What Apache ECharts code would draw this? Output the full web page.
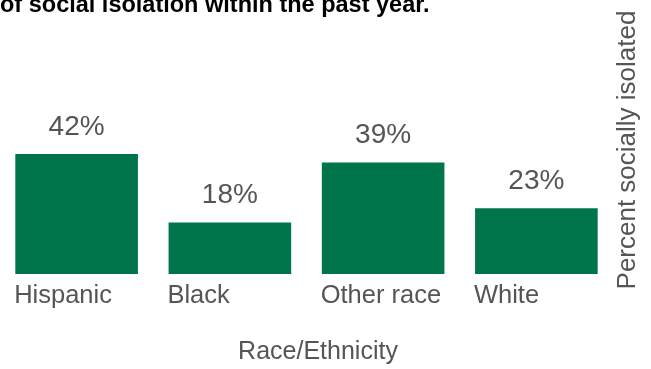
<!DOCTYPE html>
<html>
<head>
<meta charset="utf-8">
<script src="https://cdn.jsdelivr.net/npm/echarts@6/dist/echarts.min.js"></script>
<style>
html,body{margin:0;padding:0;background:#fff;}
#chart{width:651px;height:369px;}
</style>
</head>
<body>
<div id="chart"></div>
<script>
var categories = ['Hispanic', 'Black', 'Other race', 'White'];
var values = [42, 18, 39, 23];
var titleText = 'of social isolation within the past year.';
var xName = 'Race/Ethnicity';
var yName = 'Percent socially isolated';

var chart = echarts.init(document.getElementById('chart'), null, {renderer: 'canvas'});
var gray = '#555555';
var font = '"Liberation Sans", Arial, Helvetica, sans-serif';
chart.setOption({
  animation: false,
  backgroundColor: '#ffffff',
  grid: {left: 0, right: 38, top: 131.1, bottom: 95, containLabel: false},
  xAxis: {
    type: 'category',
    data: categories,
    axisLine: {show: false},
    axisTick: {show: false},
    axisLabel: {
      margin: 9,
      formatter: function (v) { return '{a|' + v + '}'; },
      rich: {a: {width: 125, align: 'left', color: gray, fontSize: 25.5, fontFamily: font}}
    },
    name: xName,
    nameLocation: 'middle',
    nameGap: 66,
    nameTextStyle: {color: gray, fontSize: 25, fontFamily: font, padding: [0, 0, 0, 23]}
  },
  yAxis: {
    type: 'value',
    min: 0,
    max: 50,
    show: false
  },
  series: [{
    type: 'bar',
    data: values,
    barCategoryGap: '20%',
    itemStyle: {color: '#00744A'},
    label: {
      show: true,
      position: 'top',
      distance: 13,
      formatter: function (p) { return p.value + '%'; },
      color: gray,
      fontSize: 28,
      fontFamily: font
    }
  }],
  graphic: [
    {
      type: 'text',
      left: 0,
      top: -6,
      style: {text: titleText, fill: '#000', font: 'bold 23.5px ' + font}
    },
    {
      type: 'text',
      x: 628,
      y: 150,
      rotation: Math.PI / 2,
      style: {text: yName, fill: gray, font: '26px ' + font, align: 'center', verticalAlign: 'middle'}
    }
  ]
});
</script>
</body>
</html>
